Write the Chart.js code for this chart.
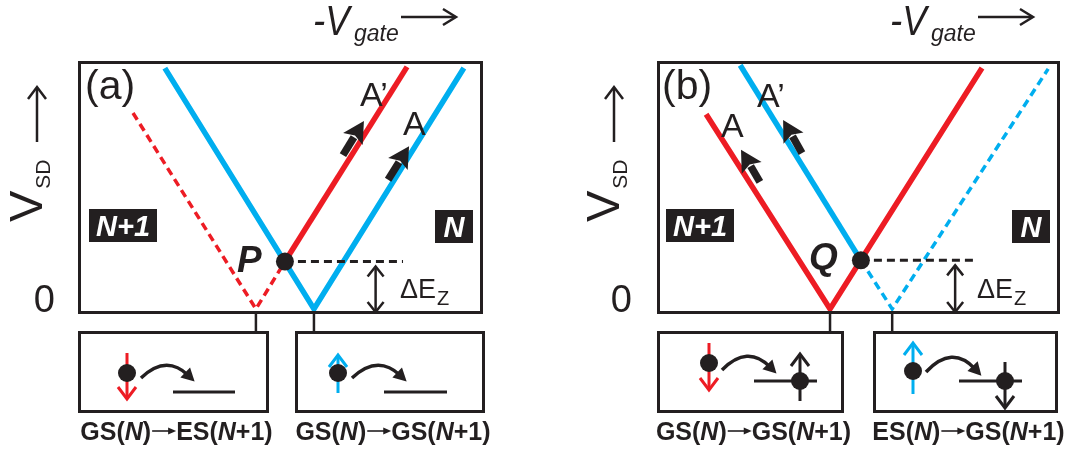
<!DOCTYPE html>
<html><head><meta charset="utf-8">
<style>
html,body{margin:0;padding:0;background:#fff;width:1068px;height:450px;overflow:hidden}
.wrap{position:absolute;top:0;width:534px;height:450px}
#wa{left:0}#wb{left:534px}
canvas{display:block}
</style>
<script src="https://cdn.jsdelivr.net/npm/chart.js@4.4.1/dist/chart.umd.min.js"></script>
</head><body>
<div class="wrap" id="wa"><canvas id="ca" width="534" height="450"></canvas></div>
<div class="wrap" id="wb"><canvas id="cb" width="534" height="450"></canvas></div>
<script>
// Axes: x = -V_gate (arbitrary units across each box), y = V_SD (arbitrary units, 0 = zero bias)
const xRange = [0, 10];
const yRange = [-0.1, 6.1];
const yTickLabels = ['0'];

// ---- Panel (a) ----
const aBlue      = [{x:2.13,y:5.95},{x:5.83,y:0},{x:9.55,y:5.95}];
const aRedSolid  = [{x:5.11,y:1.17},{x:8.14,y:5.98}];
const aRedDashed = [{x:1.34,y:4.84},{x:4.39,y:0},{x:5.11,y:1.17}];
const aCrossing  = [{x:5.11,y:1.17}];               // P
const aZeeman    = [{x:5.11,y:1.17},{x:8.04,y:1.17}];
const aDeltaEzX  = 7.36;
const aArrows    = [[6.55,3.80,7.07,4.64],[7.67,3.19,8.19,4.02]];   // A', A
const aVertices  = [4.39, 5.83];
const aInsetLabels = [
  ['GS(', {i:'N'}, ')', {arrow:true}, 'ES(', {i:'N'}, '+1)'],
  ['GS(', {i:'N'}, ')', {arrow:true}, 'GS(', {i:'N'}, '+1)']
];

// ---- Panel (b) ----
const bRed        = [{x:1.20,y:4.81},{x:4.29,y:0},{x:8.08,y:5.95}];
const bBlueSolid  = [{x:2.05,y:6.02},{x:5.06,y:1.20}];
const bBlueDashed = [{x:5.06,y:1.20},{x:5.84,y:0},{x:9.73,y:5.93}];
const bCrossing   = [{x:5.06,y:1.20}];              // Q
const bZeeman     = [{x:5.06,y:1.20},{x:7.90,y:1.20}];
const bDeltaEzX   = 7.41;
const bArrows     = [[3.59,3.85,3.12,4.67],[2.54,3.14,2.07,3.93]];  // A', A
const bVertices   = [4.29, 5.84];
const bInsetLabels = [
  ['GS(', {i:'N'}, ')', {arrow:true}, 'GS(', {i:'N'}, '+1)'],
  ['ES(', {i:'N'}, ')', {arrow:true}, 'GS(', {i:'N'}, '+1)']
];

const INK = '#231F20', RED = '#ED1C24', BLUE = '#00AEEF';
const FF = '"Liberation Sans", Arial, Helvetica, sans-serif';
const INSET_TOP = 332, INSET_BOTTOM = 412;

function seg(ctx, x0, y0, x1, y1){ ctx.beginPath(); ctx.moveTo(x0,y0); ctx.lineTo(x1,y1); ctx.stroke(); }
function chevron(ctx, tx, ty, dx, dy, len, half){
  const L = Math.hypot(dx,dy); const ux=dx/L, uy=dy/L; const nx=-uy, ny=ux;
  ctx.beginPath();
  ctx.moveTo(tx-ux*len+nx*half, ty-uy*len+ny*half);
  ctx.lineTo(tx,ty);
  ctx.lineTo(tx-ux*len-nx*half, ty-uy*len-ny*half);
  ctx.stroke();
}
function thickArrow(ctx, x0,y0,x1,y1){
  const L=Math.hypot(x1-x0,y1-y0); const ux=(x1-x0)/L, uy=(y1-y0)/L; const nx=-uy, ny=ux;
  const hl=21, hw=11.5;
  ctx.lineWidth=7.5; ctx.lineCap='butt'; ctx.strokeStyle=INK;
  seg(ctx,x0,y0,x1-ux*(hl-2),y1-uy*(hl-2));
  ctx.fillStyle=INK; ctx.beginPath();
  ctx.moveTo(x1,y1);
  ctx.lineTo(x1-ux*hl+nx*hw, y1-uy*hl+ny*hw);
  ctx.lineTo(x1-ux*(hl-4), y1-uy*(hl-4));
  ctx.lineTo(x1-ux*hl-nx*hw, y1-uy*hl-ny*hw);
  ctx.closePath(); ctx.fill();
}
function runs(ctx, parts, x, y, size){
  const fN = 'bold '+size+'px '+FF, fI = 'italic bold '+size+'px '+FF;
  const AW = 25;
  const widthOf = p => { if (p.arrow) return AW; ctx.font=(typeof p==='string')?fN:fI; return ctx.measureText(typeof p==='string'?p:p.i).width; };
  let w=0; parts.forEach(p=> w += widthOf(p));
  let cx = x - w/2;
  ctx.textAlign='left';
  parts.forEach(p=>{
    const pw = widthOf(p);
    if (p.arrow){
      const ay = y - size*0.36;
      ctx.strokeStyle=INK; ctx.lineWidth=1.6; seg(ctx,cx+1,ay,cx+pw-5,ay);
      ctx.fillStyle=INK; ctx.beginPath(); ctx.moveTo(cx+pw,ay); ctx.lineTo(cx+pw-8,ay-3.5); ctx.lineTo(cx+pw-8,ay+3.5); ctx.closePath(); ctx.fill();
    } else {
      ctx.font=(typeof p==='string')?fN:fI; ctx.fillStyle=INK; ctx.fillText(typeof p==='string'?p:p.i,cx,y);
    }
    cx+=pw;
  });
}
function spin(ctx, x, yFrom, yTo, color){
  ctx.strokeStyle=color; ctx.lineWidth=3; ctx.lineJoin='miter'; ctx.lineCap='butt';
  seg(ctx,x,yFrom,x,yTo);
  chevron(ctx,x,yTo,0,yTo-yFrom,12,9);
}
function dot(ctx,x,y,r){ ctx.fillStyle=INK; ctx.beginPath(); ctx.arc(x,y,r,0,Math.PI*2); ctx.fill(); }
function hop(ctx,x0,x1,yb,peak){
  const cx=(x0+x1)/2, cy=2*peak-yb;
  ctx.strokeStyle=INK; ctx.lineWidth=3.5; ctx.lineCap='butt';
  const dx=x1-cx, dy=yb-cy, L=Math.hypot(dx,dy), ux=dx/L, uy=dy/L, nx=-uy, ny=ux;
  ctx.beginPath(); ctx.moveTo(x0,yb); ctx.quadraticCurveTo(cx,cy,x1-ux*4,yb-uy*4); ctx.stroke();
  const tx=x1+ux*5, ty=yb+uy*5;
  ctx.fillStyle=INK; ctx.beginPath();
  ctx.moveTo(tx,ty); ctx.lineTo(tx-ux*13+nx*7,ty-uy*13+ny*7); ctx.lineTo(tx-ux*13-nx*7,ty-uy*13-ny*7); ctx.closePath(); ctx.fill();
}
function level(ctx,x0,x1,y){ ctx.strokeStyle=INK; ctx.lineWidth=3; seg(ctx,x0,y,x1,y); }

// inset drawings (absolute page pixel positions)
function insetA1(ctx,L){ spin(ctx,L+48,353,399,RED); dot(ctx,L+48,373,9); hop(ctx,L+62,L+112,378,366); level(ctx,L+94,L+156,392); }
function insetA2(ctx,L){ spin(ctx,L+42,393,355,BLUE); dot(ctx,L+42,373,9); hop(ctx,L+56,L+107,378,366); level(ctx,L+88,L+151,392); }
function insetB1(ctx,L){ spin(ctx,L+51,343,390,RED); dot(ctx,L+51,363,9); hop(ctx,L+64,L+115,370,357);
  level(ctx,L+96,L+159,381); spin(ctx,L+142,401,354,INK); dot(ctx,L+142,381,9); }
function insetB2(ctx,L){ spin(ctx,L+39,394,343,BLUE); dot(ctx,L+39,371,9); hop(ctx,L+52,L+104,372,358);
  level(ctx,L+85,L+148,381); spin(ctx,L+131,362,408,INK); dot(ctx,L+131,381,9); }

const deco = {
  id:'deco',
  afterDatasetsDraw(chart, args, opts){
    const p = opts.panel, ctx = chart.ctx, ca = chart.chartArea;
    const X = v => chart.scales.x.getPixelForValue(v), Y = v => chart.scales.y.getPixelForValue(v);
    const s = p.shift;
    ctx.save();
    ctx.lineJoin='miter';
    // data-anchored items
    ctx.strokeStyle=INK; ctx.lineWidth=2.5;
    p.vertices.forEach(v => seg(ctx, X(v), ca.bottom, X(v), INSET_TOP));
    // Delta E_Z double arrow
    const ax = X(p.deltaX), ay0 = Y(p.crossY)+5, ay1 = ca.bottom-1;
    ctx.lineWidth=2.5; seg(ctx,ax,ay0,ax,ay1);
    chevron(ctx,ax,ay0,0,-1,10,8); chevron(ctx,ax,ay1,0,1,10,8);
    p.arrows.forEach(a => thickArrow(ctx, X(a[0]),Y(a[1]),X(a[2]),Y(a[3])));
    // frame
    ctx.strokeStyle=INK; ctx.lineWidth=3;
    ctx.strokeRect(ca.left+0.5, ca.top+0.5, ca.right-ca.left-1, ca.bottom-ca.top-1);

    // absolute-positioned decorations
    ctx.translate(-p.left,0);
    ctx.fillStyle=INK; ctx.textBaseline='alphabetic';
    // zero tick label
    ctx.font='38px '+FF; ctx.textAlign='right';
    ctx.fillText(yTickLabels[0], 55+s, Y(0)+3);
    // panel tag
    ctx.font='41px '+FF; ctx.textAlign='left';
    ctx.fillText(p.tag, 85+s, 99);
    // -V_gate ->
    ctx.save(); ctx.translate(313+s,35); ctx.scale(0.85,1); ctx.font='italic 43px '+FF; ctx.fillText('-V',0,0); ctx.restore();
    ctx.font='italic 23px '+FF; ctx.fillText('gate',354+s,41);
    ctx.strokeStyle=INK; ctx.lineWidth=2.5; seg(ctx,401+s,17,455+s,17); chevron(ctx,456+s,17,1,0,13,8);
    // V_SD ^
    ctx.save(); ctx.translate(42+s,222); ctx.rotate(-Math.PI/2);
    ctx.font='47px '+FF; ctx.fillText('V',0,0);
    const vw = ctx.measureText('V').width;
    ctx.font='21px '+FF; ctx.fillText('SD',vw+2,8);
    ctx.restore();
    seg(ctx,37+s,142,37+s,88); chevron(ctx,37+s,87,0,-1,12,9);
    // N+1 and N tags
    ctx.fillStyle=INK; ctx.fillRect(89+s,209,68,33); ctx.fillRect(435+s,210,38,33);
    ctx.fillStyle='#fff'; ctx.font='italic bold 29px '+FF; ctx.textAlign='center';
    ctx.fillText('N+1',123+s,236); ctx.fillText('N',454+s,237);
    // Delta E_Z text
    ctx.fillStyle=INK; ctx.textAlign='left'; ctx.font='27px '+FF;
    ctx.fillText('\u0394E',400+s,298);
    const dw = ctx.measureText('\u0394E').width;
    ctx.font='20px '+FF; ctx.fillText('Z',400+s+dw+1,305);
    // crossing label
    ctx.font='italic bold 37px '+FF; ctx.fillText(p.cross, p.crossLabel[0], p.crossLabel[1]);
    // A labels
    ctx.font='34px '+FF;
    p.aLabels.forEach(l => ctx.fillText(l[0], l[1], l[2]));
    // insets
    p.insets.forEach((ins,k) => {
      ctx.strokeStyle=INK; ctx.lineWidth=3;
      ctx.strokeRect(ins[0]+0.5, INSET_TOP+0.5, ins[1]-ins[0]-1, INSET_BOTTOM-INSET_TOP-1);
      ins[2](ctx, ins[0]);
      runs(ctx, p.insetLabels[k], (ins[0]+ins[1])/2+3, 440, 25);
    });
    ctx.restore();
  }
};

function solid(data,color){ return {data, showLine:true, borderColor:color, borderWidth:5.5, pointRadius:0, borderCapStyle:'butt', borderJoinStyle:'miter', tension:0, fill:false}; }
function dashed(data,color,w){ return {data, showLine:true, borderColor:color, borderWidth:w, borderDash:[8,5], pointRadius:0, borderCapStyle:'butt', borderJoinStyle:'miter', tension:0, fill:false}; }
function crossDot(data){ return {data, showLine:false, pointRadius:9, pointHoverRadius:9, pointBackgroundColor:INK, pointBorderWidth:0}; }

function make(id, panel, datasets){
  return new Chart(document.getElementById(id), {
    type:'scatter',
    data:{datasets},
    options:{
      responsive:false, animation:false, devicePixelRatio:1, events:[],
      layout:{padding:{left:panel.padL, right:panel.padR, top:62, bottom:137}},
      scales:{
        x:{type:'linear', min:xRange[0], max:xRange[1], display:false},
        y:{type:'linear', min:yRange[0], max:yRange[1], display:false}
      },
      plugins:{legend:{display:false}, tooltip:{enabled:false}, deco:{panel}}
    },
    plugins:[deco]
  });
}

make('ca', {
  left:0, shift:0, padL:79, padR:52, tag:'(a)', cross:'P', crossLabel:[237,272], crossY:aCrossing[0].y,
  deltaX:aDeltaEzX, arrows:aArrows, vertices:aVertices,
  aLabels:[['A\u2019',360,106],['A',403,135]],
  insets:[[79,268,insetA1],[296,484,insetA2]], insetLabels:aInsetLabels
}, [
  crossDot(aCrossing),
  dashed(aZeeman, INK, 3),
  solid(aRedSolid, RED),
  solid(aBlue, BLUE),
  dashed(aRedDashed, RED, 3.5)
]);

make('cb', {
  left:534, shift:577, padL:124, padR:9, tag:'(b)', cross:'Q', crossLabel:[809,269], crossY:bCrossing[0].y,
  deltaX:bDeltaEzX, arrows:bArrows, vertices:bVertices,
  aLabels:[['A\u2019',757,107],['A',721,137]],
  insets:[[658,843,insetB1],[874,1057,insetB2]], insetLabels:bInsetLabels
}, [
  crossDot(bCrossing),
  dashed(bZeeman, INK, 3),
  solid(bBlueSolid, BLUE),
  solid(bRed, RED),
  dashed(bBlueDashed, BLUE, 3.5)
]);
</script>
</body></html>
